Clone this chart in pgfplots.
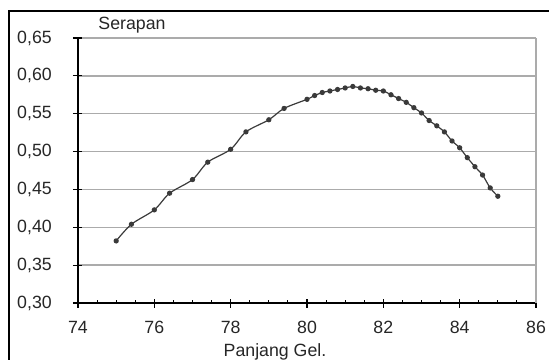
\documentclass[border=0pt]{standalone}
\usepackage{pgfplots}
\pgfplotsset{compat=1.18}
\usepackage{fontspec}
\setmainfont{Liberation Sans}
\definecolor{gridgray}{HTML}{ABABAB}
\definecolor{linegray}{HTML}{3A3A3A}
\definecolor{txtgray}{HTML}{262626}
\newcommand{\lblfont}{\fontsize{13.3}{15}\selectfont}
\begin{document}
\begin{tikzpicture}[x=0.75pt,y=0.75pt]
\useasboundingbox (0,0) rectangle (549,360);
\draw[black, line width=0.9pt] (9,0) -- (9,349) -- (549,349);
\begin{axis}[
  at={(58.5pt,42.75pt)}, anchor=south west,
  width=343.5pt, height=198.75pt, scale only axis,
  xmin=74, xmax=86, ymin=0.30, ymax=0.65,
  xtick={74,76,...,86}, ytick={0.30,0.35,...,0.66},
  minor x tick num=3,
  axis lines*=left,
  axis line style={black, line width=0.9pt},
  tick align=inside,
  tick style={black, line width=0.8pt},
  major tick length=6.75pt, minor tick length=2.4pt,
  major x tick style={yshift=-3.6pt},
  major y tick style={xshift=-3.75pt},
  ymajorgrids, grid style={gridgray, line width=1.1pt},
  /pgf/number format/assume math mode=true,
  yticklabel style={/pgf/number format/.cd, fixed, fixed zerofill, precision=2, use comma, /tikz/.cd, anchor=east, inner sep=0pt, xshift=-19.5pt, font=\lblfont, text=txtgray},
  xticklabel style={anchor=north, inner sep=0pt, yshift=-13.5pt, font=\lblfont, text=txtgray},
  clip=false,
]
\draw[gridgray, line width=1.3pt] (rel axis cs:1,0) -- (rel axis cs:1,1);
\addplot[linegray, line width=0.9pt, smooth, mark=*, mark size=1.5pt, mark options={fill=linegray, draw=linegray}] coordinates {
(75.0,0.382) (75.4,0.404) (76.0,0.423) (76.4,0.445) (77.0,0.463) (77.4,0.486)
(78.0,0.503) (78.4,0.526) (79.0,0.542) (79.4,0.557) (80.0,0.569) (80.2,0.574)
(80.4,0.578) (80.6,0.580) (80.8,0.582) (81.0,0.584) (81.2,0.586) (81.4,0.584)
(81.6,0.583) (81.8,0.581) (82.0,0.580) (82.2,0.575) (82.4,0.570) (82.6,0.565)
(82.8,0.558) (83.0,0.551) (83.2,0.541) (83.4,0.534) (83.6,0.526) (83.8,0.514)
(84.0,0.505) (84.2,0.492) (84.4,0.480) (84.6,0.469) (84.8,0.452) (85.0,0.441)
};
\end{axis}
\node[inner sep=0pt, font=\lblfont, text=txtgray] at (132,335) {Serapan};
\node[inner sep=0pt, font=\lblfont, text=txtgray] at (275,8) {Panjang Gel.};
\end{tikzpicture}
\end{document}
